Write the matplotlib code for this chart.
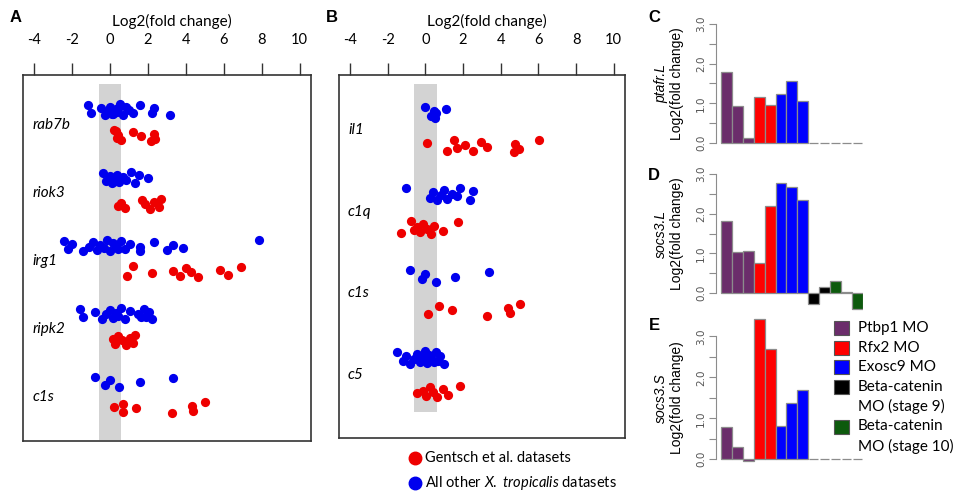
import numpy as np
import matplotlib.pyplot as plt
from matplotlib import transforms
from matplotlib.patches import Rectangle
from matplotlib.lines import Line2D

W, H = 955, 496

# ---- panel A: log2 fold change per gene ----
GENES_A = ["rab7b", "riok3", "irg1", "ripk2", "c1s"]
A_BLUE = [
    [-1.15, -1.0, -0.45, -0.25, -0.1, 0.0, 0.15, 0.3, 0.4, 0.55, 0.7, 0.85, 1.0, 1.2, 1.6, 2.2, 2.35, 3.15, 0.2, 0.5, 0.1],
    [-0.35, -0.2, 0.0, 0.1, 0.25, 0.4, 0.5, 0.7, 0.85, 1.1, 1.3, 1.55, 2.0, 0.3],
    [-2.4, -2.2, -2.0, -1.4, -1.1, -0.9, -0.7, -0.5, -0.3, -0.15, 0.0, 0.15, 0.3, 0.45, 0.6, 0.8, 1.05, 1.6,
     1.6, 2.3, 3.0, 3.3, 3.85, 7.85],
    [-1.6, -1.4, -0.8, -0.4, -0.2, 0.0, 0.15, 0.3, 0.45, 0.6, 0.8, 1.05, 1.5, 1.65, 1.8, 1.9, 2.05, 2.2],
    [-0.8, -0.25, 0.0, 0.5, 1.6, 3.3],
]
A_RED = [
    [0.2, 0.35, 0.45, 0.6, 1.2, 1.65, 2.15, 2.3, 2.4, 0.3],
    [0.45, 0.6, 0.8, 1.7, 1.85, 2.1, 2.3, 2.6, 2.7],
    [0.9, 1.2, 2.2, 3.3, 3.7, 4.0, 4.3, 4.65, 5.8, 6.2, 6.9],
    [0.15, 0.25, 0.45, 0.65, 0.85, 1.05, 1.2, 1.3],
    [0.2, 0.7, 0.7, 1.4, 3.25, 4.35, 4.4, 5.0],
]

# ---- panel B ----
GENES_B = ["il1", "c1q", "c1s", "c5"]
B_BLUE = [
    [0.0, 0.3, 0.45, 0.5, 0.55, 1.1],
    [-1.05, 0.25, 0.4, 0.6, 0.85, 1.0, 1.15, 1.4, 1.7, 1.85, 2.35, 2.55],
    [-0.8, -0.2, 0.0, 0.55, 1.6, 3.4],
    [-1.5, -1.2, -1.0, -0.8, -0.6, -0.45, -0.3, -0.2, -0.1, 0.0, 0.1, 0.2, 0.3, 0.45, 0.55, 0.7, 0.8, 1.0],
]
B_RED = [
    [0.1, 1.15, 1.5, 1.7, 2.1, 2.55, 2.95, 3.3, 4.7, 4.75, 5.0, 6.05],
    [-1.3, -0.75, -0.6, -0.45, -0.3, -0.1, 0.1, 0.3, 0.45, 0.95, 1.75],
    [0.15, 0.75, 1.4, 3.3, 4.4, 4.5, 5.05],
    [-0.45, -0.1, 0.05, 0.25, 0.4, 0.6, 0.95, 1.2, 1.85],
]
X_TICKS = [-4, -2, 0, 2, 4, 6, 8, 10]

# ---- panels C-E: bars per morpholino sample ----
BAR_GROUPS = ["Ptbp1 MO"] * 3 + ["Rfx2 MO"] * 2 + ["Exosc9 MO"] * 3 + ["bcat9"] * 2 + ["bcat10"] * 3
PTAFR_L = [1.78, 0.93, 0.12, 1.17, 0.95, 1.24, 1.55, 1.05, 0, 0, 0, 0, 0]
SOCS3_L = [1.83, 1.03, 1.07, 0.76, 2.2, 2.77, 2.68, 2.35, -0.29, 0.15, 0.3, 0.02, -0.4]
SOCS3_S = [0.8, 0.3, -0.05, 3.41, 2.7, 0.82, 1.37, 1.7, 0, 0, 0, 0, 0]

LEGEND_LABELS = ["Ptbp1 MO", "Rfx2 MO", "Exosc9 MO", "Beta-catenin\nMO (stage 9)", "Beta-catenin\nMO (stage 10)"]
GROUP_COLORS = {"Ptbp1 MO": "#6b2d6b", "Rfx2 MO": "#ff0000", "Exosc9 MO": "#0000ff",
                "bcat9": "#000000", "bcat10": "#0d5a0d"}
LEGEND_COLORS = ["#6b2d6b", "#ff0000", "#0000ff", "#000000", "#0d5a0d"]

RED = "#ee0000"
BLUE = "#0000ee"
TXT = "Lato"

plt.rcParams["font.family"] = [TXT, "DejaVu Sans"]
plt.rcParams["mathtext.fontset"] = "custom"
plt.rcParams["mathtext.rm"] = TXT
plt.rcParams["mathtext.it"] = TXT + ":italic"


def box(x0, y0, x1, y1):
    # pixel box (top-left origin) -> figure rect
    return [x0 / W, 1 - y1 / H, (x1 - x0) / W, (y1 - y0) / H]


def jitter(n):
    pattern = np.array([-0.9, 0.5, -0.3, 0.9, 0.1, -0.6, 0.7, -0.1, 0.3, -1.0, 0.8, -0.5, 0.0, 0.6])
    return np.resize(pattern, n)


fig = plt.figure(figsize=(W / 100, H / 100), dpi=100)


def dot_panel(rect, genes, blues, reds, ylim, band, blue_off, red_off, spread, title_x):
    ax = fig.add_axes(rect)
    ax.set_xlim(-4.58, 10.6)
    ax.set_ylim(*ylim)
    # gray band around zero, only over part of the box
    ax.add_patch(Rectangle((-0.6, band[0]), 1.2, band[1] - band[0], color="#d3d3d3", lw=0, zorder=0))
    for i, g in enumerate(genes):
        b = np.array(blues[i])
        r = np.array(reds[i])
        ax.scatter(b, i + blue_off + spread * jitter(len(b)), s=44, color=BLUE, lw=0, zorder=3)
        ax.scatter(r, i + red_off + spread * jitter(len(r))[::-1], s=44, color=RED, lw=0, zorder=3)
        ax.text(-4.1, i, g, style="italic", fontsize=11, va="center", ha="left")
    ax.xaxis.tick_top()
    ax.set_xticks(X_TICKS)
    ax.set_xticklabels([str(t) for t in X_TICKS], fontsize=10.5)
    ax.tick_params(axis="x", length=9, width=1, pad=11, color="#333333")
    ax.set_yticks([])
    for s in ax.spines.values():
        s.set_color("#333333")
        s.set_linewidth(1.2)
    fig.text(title_x / W, 1 - 21 / H, "Log2(fold change)", fontsize=11, ha="center", va="center")
    return ax


# panel A: 68 px per gene row
dot_panel(box(23, 75, 311, 441), GENES_A, A_BLUE, A_RED, (4.65, -0.735), (-0.6, 4.63),
          -0.22, 0.16, 0.085, 172)
# panel B: 82 px per gene row
dot_panel(box(339, 75, 625, 438), GENES_B, B_BLUE, B_RED, (3.77, -0.67), (-0.56, 3.45),
          -0.21, 0.2, 0.08, 487)

# legend under panel B
fig.add_artist(Line2D([415 / W], [1 - 458 / H], marker="o", ms=9, color=RED, lw=0))
fig.add_artist(Line2D([415 / W], [1 - 483 / H], marker="o", ms=9, color=BLUE, lw=0))
fig.text(425 / W, 1 - 458 / H, "Gentsch et al. datasets", fontsize=10.5, va="center")
fig.text(425 / W, 1 - 483 / H, r"All other $\it{X.\ tropicalis}$ datasets", fontsize=10.5, va="center")


def bar_panel(y_px_zero, px_per_unit, vals, gene, ylim):
    top = y_px_zero - ylim[1] * px_per_unit
    bottom = y_px_zero - ylim[0] * px_per_unit
    ax = fig.add_axes(box(716, top, 863, bottom))
    ax.set_xlim(-0.45, 13)
    ax.set_ylim(*ylim)
    cols = [GROUP_COLORS[g] for g in BAR_GROUPS]
    bars = ax.bar(np.arange(len(vals)), vals, width=1, align="edge", color=cols,
                  edgecolor="#8c8c8c", lw=0.9)
    for b, v in zip(bars, vals):
        if v == 0:
            # flat bars drawn as short gray dashes
            b.set_width(0.8)
            b.set_x(b.get_x() + 0.1)
    for s in ["top", "right", "bottom"]:
        ax.spines[s].set_visible(False)
    ax.spines["left"].set_bounds(0, 3)
    ax.spines["left"].set_color("#8c8c8c")
    ticks = np.arange(0, 3.01, 0.5)
    ax.set_yticks(ticks)
    ax.set_yticklabels(["%.1f" % t if t == int(t) else "" for t in ticks],
                       rotation=90, va="center", fontsize=7.5, color="#555555", family="DejaVu Sans")
    ax.tick_params(axis="y", length=5, color="#8c8c8c", pad=2)
    ax.set_xticks([])
    tr = transforms.blended_transform_factory(fig.transFigure, ax.transData)
    ax.text(661 / W, 1.5, gene, transform=tr, rotation=90, style="italic", fontsize=10,
            ha="center", va="center", family="Liberation Sans")
    ax.text(677 / W, 1.5, "Log2(fold change)", transform=tr, rotation=90, fontsize=10,
            ha="center", va="center", family="Liberation Sans")
    return ax


bar_panel(143, 39.7, PTAFR_L, "ptafr.L", (-0.5, 3.2))
bar_panel(293, 39.6, SOCS3_L, "socs3.L", (-0.5, 3.2))
bar_panel(459.3, 41.0, SOCS3_S, "socs3.S", (-0.5, 3.6))

# legend for bar panels
line = 0
for lab, col in zip(LEGEND_LABELS, LEGEND_COLORS):
    y = 328 + 19.7 * line
    fig.add_artist(Rectangle((834 / W, 1 - (y + 7) / H), 15 / W, 14 / H, facecolor=col,
                             edgecolor="#555555", lw=0.8, transform=fig.transFigure))
    for part in lab.split("\n"):
        fig.text(858 / W, 1 - (328 + 19.7 * line) / H, part, fontsize=11, va="center")
        line += 1

# panel letters
for letter, (px, py) in zip("ABCDE", [(16, 18), (332, 18), (654, 18), (654, 175), (654, 326)]):
    fig.text(px / W, 1 - py / H, letter, fontsize=12, fontweight="bold", va="center", ha="center",
             family="Liberation Sans")

fig.savefig("out.png", dpi=100)
